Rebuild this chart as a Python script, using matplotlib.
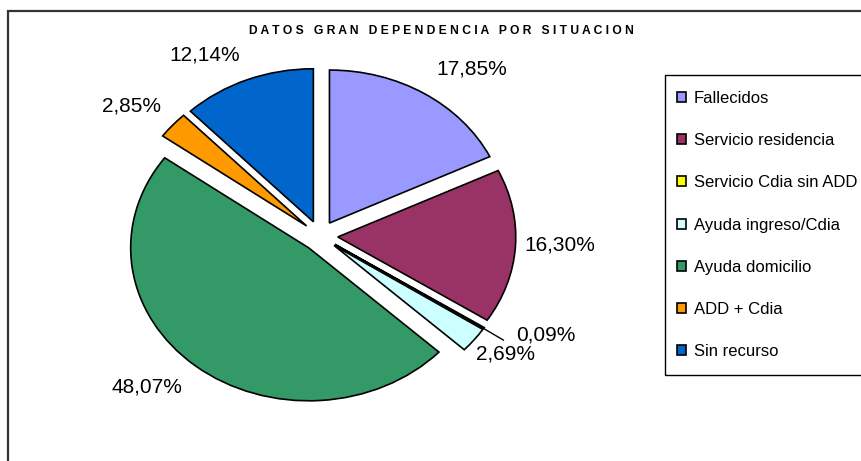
import matplotlib
matplotlib.use("Agg")
import matplotlib.pyplot as plt
from matplotlib.patches import Rectangle
import numpy as np

plt.rcParams['font.family'] = ['Liberation Sans', 'DejaVu Sans']

# data
categorias = ["Fallecidos", "Servicio residencia", "Servicio Cdia sin ADD",
              "Ayuda ingreso/Cdia", "Ayuda domicilio", "ADD + Cdia", "Sin recurso"]
porcentajes = [17.85, 16.30, 0.09, 2.69, 48.07, 2.85, 12.14]
colores = ["#9999FF", "#993366", "#FFFF00", "#CCFFFF", "#339966", "#FF9900", "#0066CC"]
titulo = "DATOS GRAN DEPENDENCIA POR SITUACION"

# where the percentage labels sit (axes data units, pie radius = 1)
label_pos = [(0.85, 1.09), (1.35, -0.06), (1.27, -0.65), (1.04, -0.77),
             (-0.97, -0.99), (-1.06, 0.85), (-0.65, 1.18)]

W, H = 861, 461
fig = plt.figure(figsize=(W / 100, H / 100), dpi=100)

# outer chart frame (runs off the right and bottom edges)
fig.patches.append(Rectangle((8 / W, -0.05), 1.1, 1 - 11 / H + 0.05,
                             transform=fig.transFigure, fill=False,
                             ec="#333333", lw=1.6))

# pie is a bit stretched sideways: 178 px per unit across, 153 px up
cx, cy = 320, H - 236
sx, sy = 178, 153
ax = fig.add_axes([(cx - 1.6 * sx) / W, (cy - 1.4 * sy) / H,
                   3.2 * sx / W, 2.8 * sy / H])

etiquetas = [f"{v:.2f}".replace(".", ",") + "%" for v in porcentajes]
wedges, texts = ax.pie(porcentajes, colors=colores, labels=etiquetas,
                       startangle=90, counterclock=False,
                       explode=[0.1] * len(porcentajes),
                       wedgeprops=dict(edgecolor="black", linewidth=1.2),
                       textprops=dict(fontsize=15, color="black"))
for t, (x, y) in zip(texts, label_pos):
    t.set_position((x, y))
    t.set_ha("center")
    t.set_va("center")

# leader line for the tiny slice
w = wedges[2]
th = np.deg2rad((w.theta1 + w.theta2) / 2)
x0 = w.center[0] + 0.8 * w.r * np.cos(th)
y0 = w.center[1] + 0.8 * w.r * np.sin(th)
ax.plot([x0, 1.03], [y0, -0.68], color="black", lw=1)

ax.set_aspect("auto")
ax.set_xlim(-1.6, 1.6)
ax.set_ylim(-1.4, 1.4)
ax.axis("off")

fig.text(441 / W, 1 - 31 / H, " ".join(titulo), ha="center", va="center",
         fontsize=8.7, fontweight="bold")

# legend box, also running off the right edge
fig.patches.append(Rectangle((665 / W, 1 - 375 / H), 0.5, 300 / H,
                             transform=fig.transFigure, fill=False,
                             ec="black", lw=1.0))
leg = fig.legend(wedges, categorias, loc="upper left",
                 bbox_to_anchor=(677 / W, 1 - 91 / H), borderaxespad=0,
                 fontsize=12, frameon=False,
                 handlelength=0.55, handleheight=0.55, handletextpad=0.45,
                 labelspacing=1.63, borderpad=0)
for h in leg.legend_handles:
    h.set_edgecolor("black")
    h.set_linewidth(1.2)

fig.savefig("out.png", dpi=100)
